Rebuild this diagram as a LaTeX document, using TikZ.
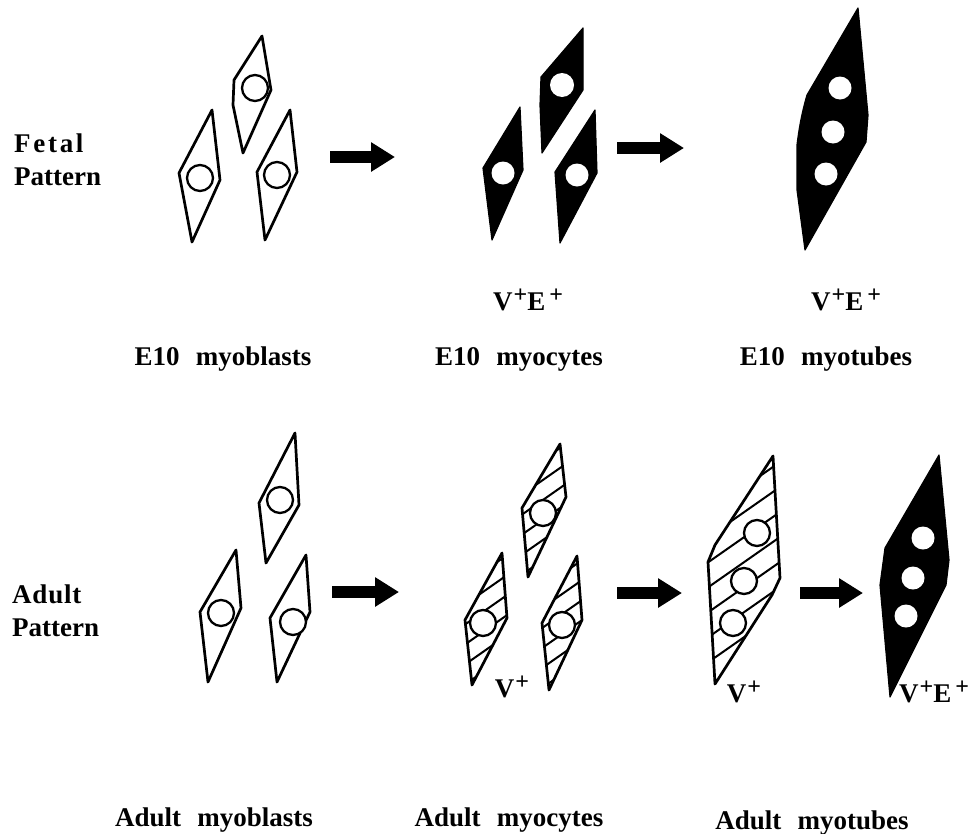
\documentclass[tikz,border=0pt]{standalone}
\usepackage{fontspec}
\setmainfont{Liberation Serif}
\usetikzlibrary{arrows.meta}
% raised plus sign for the marker labels
\newcommand\pls{\raisebox{8pt}{\fontsize{24}{24}\selectfont+}}
% hatching: #1 start x, #2 first start y, #3 spacing, #4 last index
\newcommand\hatchlines[4]{%
  \foreach \k in {0,...,#4} \draw[hatch] (#1,{#2+\k*#3}) -- ++(170,-119);}
\begin{document}
\begin{tikzpicture}[x=1pt,y=-1pt,
  outline/.style={draw=black,line width=2.7pt,line join=round,fill=white},
  rim/.style={draw=black,line width=2.7pt,line join=round},
  blackcell/.style={fill=black,draw=black,line width=1.2pt,line join=round},
  nucleus/.style={draw=black,line width=2.3pt,fill=white},
  hole/.style={fill=white},
  hatch/.style={line width=2pt},
  flow/.style={line width=12pt,-{Triangle[length=24pt,width=28pt]}},
  lbl/.style={font=\bfseries\fontsize{27}{31}\selectfont,inner sep=0pt,anchor=base},
  side/.style={lbl,anchor=base west},
]
\useasboundingbox (0,0) rectangle (969,833);

% ---------- row labels ----------
\node[side] (fetal) at (14,152) {\addfontfeature{LetterSpace=10}Fetal};
\node[side] (fetal2) at (14,185) {Pattern};
\node[side] (adult) at (12,603) {\addfontfeature{LetterSpace=3}Adult};
\node[side] (adult2) at (12,636) {Pattern};

% ---------- fetal row: myoblasts ----------
\draw[outline] (262,36) -- (271,90) -- (243,153) -- (233,105) -- (234,80) -- cycle;
\draw[nucleus] (255,88) circle (13);
\draw[outline] (212,110) -- (220,180) -- (192,242) -- (179,173) -- cycle;
\draw[nucleus] (200,178) circle (13);
\draw[outline] (290,110) -- (297,172) -- (265,240) -- (257,172) -- cycle;
\draw[nucleus] (277,175) circle (13);

% ---------- fetal row: myocytes ----------
\draw[blackcell] (583,28) -- (583,90) -- (542,153) -- (540,105) -- (541,77) -- cycle;
\fill[hole] (562,85) circle (12);
\draw[blackcell] (520,107) -- (523,170) -- (492,240) -- (483,168) -- cycle;
\fill[hole] (503,173) circle (11.5);
\draw[blackcell] (595,110) -- (597,173) -- (560,243) -- (555,172) -- cycle;
\fill[hole] (577,175) circle (11.5);

% ---------- fetal row: myotube ----------
\draw[blackcell] (858,8) -- (868,115) -- (866,142) -- (805,250) -- (797,190)
  -- (797,145) .. controls (799,128) and (802,112) .. (807,95) -- cycle;
\fill[hole] (840,88) circle (11.5);
\fill[hole] (833,132) circle (11.5);
\fill[hole] (826,174) circle (11.5);

% ---------- fetal arrows ----------
\coordinate (fa1) at (330,157);
\coordinate (fb1) at (395,157);
\coordinate (fa2) at (617,148);
\coordinate (fb2) at (684,148);
\draw[flow] (fa1) -- (fb1);
\draw[flow] (fa2) -- (fb2);

% ---------- fetal labels ----------
\node[lbl] (fm1) at (528,310) {V\hspace{1pt}\pls E\hspace{4pt}\pls};
\node[lbl] (fm2) at (846,310) {V\hspace{1pt}\pls E\hspace{4pt}\pls};
\node[lbl] (f1) at (223,365) {E10\hspace{0.6em}myoblasts};
\node[lbl] (f2) at (519,365) {E10\hspace{0.6em}myocytes};
\node[lbl] (f3) at (826,365) {E10\hspace{0.6em}myotubes};

% ---------- adult row: myoblasts ----------
\draw[outline] (295,433) -- (299,505) -- (266,563) -- (259,503) -- cycle;
\draw[nucleus] (280,500) circle (13);
\draw[outline] (236,550) -- (241,608) -- (208,682) -- (200,612) -- cycle;
\draw[nucleus] (221,613) circle (13);
\draw[outline] (306,555) -- (310,612) -- (277,682) -- (270,618) -- cycle;
\draw[nucleus] (293,622) circle (13);

% ---------- adult row: hatched myocytes ----------
\begin{scope}
  \clip (560,444) -- (566,497) -- (528,577) -- (522,508) -- cycle;
  \hatchlines{500}{470}{20}{7}
\end{scope}
\draw[rim] (560,444) -- (566,497) -- (528,577) -- (522,508) -- cycle;
\draw[nucleus] (543,513) circle (13);

\begin{scope}
  \clip (502,553) -- (507,618) -- (472,685) -- (465,620) -- cycle;
  \hatchlines{450}{575}{20}{7}
\end{scope}
\draw[rim] (502,553) -- (507,618) -- (472,685) -- (465,620) -- cycle;
\draw[nucleus] (483,623) circle (13);

\begin{scope}
  \clip (577,556) -- (582,620) -- (549,690) -- (542,623) -- cycle;
  \hatchlines{525}{580}{20}{7}
\end{scope}
\draw[rim] (577,556) -- (582,620) -- (549,690) -- (542,623) -- cycle;
\draw[nucleus] (562,625) circle (13);

% ---------- adult row: hatched myotube ----------
\begin{scope}
  \clip (773,456) -- (780,578) -- (772,595) -- (715,684) -- (708,562) -- (715,545) -- cycle;
  \hatchlines{690}{500}{25}{9}
\end{scope}
\draw[rim] (773,456) -- (780,578) -- (772,595) -- (715,684) -- (708,562) -- (715,545) -- cycle;
\draw[nucleus] (757,533) circle (13);
\draw[nucleus] (744,581) circle (13);
\draw[nucleus] (733,623) circle (13);

% ---------- adult row: black myotube ----------
\draw[blackcell] (939,455) -- (949,560) -- (946,585) -- (890,697) -- (880,585)
  -- (885,548) -- cycle;
\fill[hole] (923,538) circle (11.5);
\fill[hole] (913,578) circle (11.5);
\fill[hole] (906,616) circle (11.5);

% ---------- adult arrows ----------
\coordinate (aa1) at (332,592);
\coordinate (ab1) at (399,592);
\coordinate (aa2) at (617,593);
\coordinate (ab2) at (682,593);
\coordinate (aa3) at (800,593);
\coordinate (ab3) at (863,593);
\draw[flow] (aa1) -- (ab1);
\draw[flow] (aa2) -- (ab2);
\draw[flow] (aa3) -- (ab3);

% ---------- adult labels ----------
\node[lbl] (am1) at (512,697) {V\hspace{1pt}\pls};
\node[lbl] (am2) at (744,702) {V\hspace{1pt}\pls};
\node[lbl] (am3) at (934,702) {V\hspace{1pt}\pls E\hspace{4pt}\pls};
\node[lbl] (a1) at (214,826) {Adult\hspace{0.6em}myoblasts};
\node[lbl] (a2) at (509,826) {Adult\hspace{0.6em}myocytes};
\node[lbl] (a3) at (812,829) {Adult\hspace{0.6em}myotubes};
\end{tikzpicture}
\end{document}
